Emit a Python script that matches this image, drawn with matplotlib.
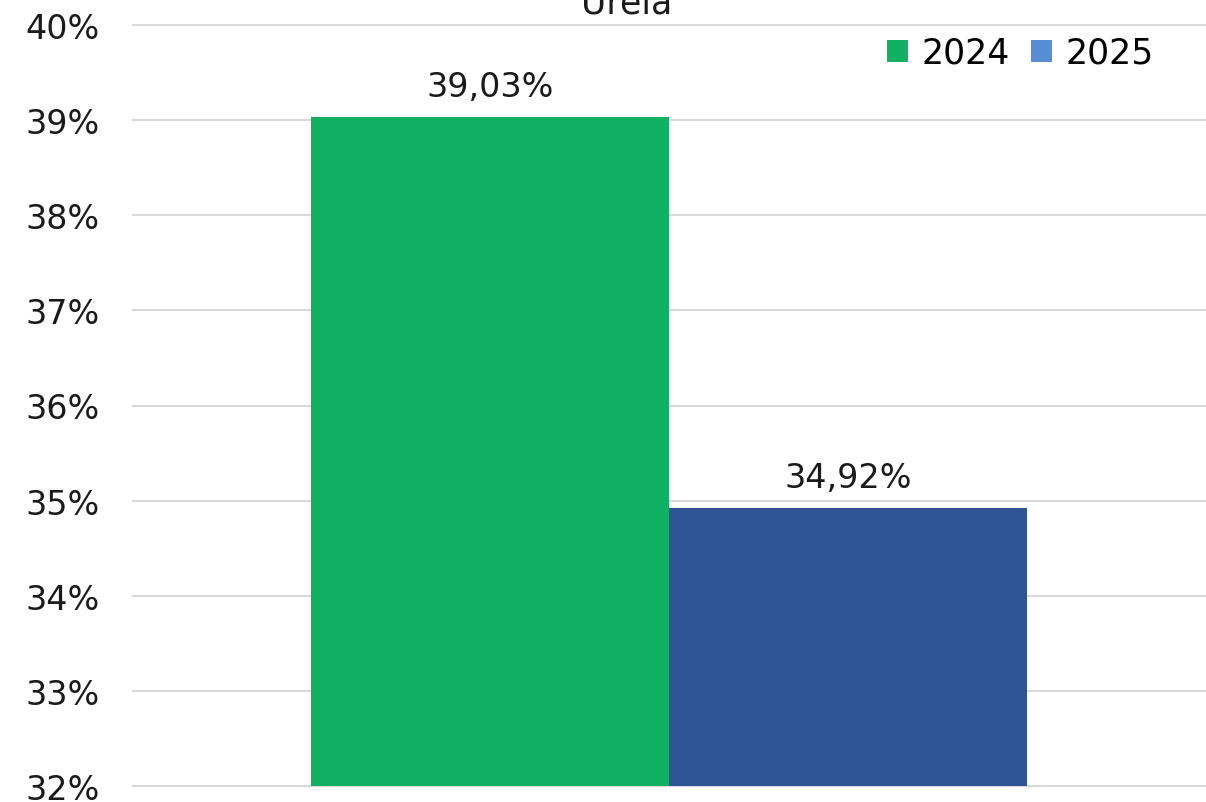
import matplotlib
matplotlib.use("Agg")
import matplotlib.pyplot as plt
from matplotlib.patches import Patch
from matplotlib.ticker import FuncFormatter

plt.rcParams['font.family'] = ['DejaVu Sans']

title = "Ureia"
categories = ["Ureia"]
series_names = ["2024", "2025"]
values_2024 = [39.03]
values_2025 = [34.92]
ylim = (32, 40)

bar_colors = ["#11b163", "#2f5597"]
legend_colors = ["#11b163", "#568fd4"]

fig = plt.figure(figsize=(12.06, 8.03), dpi=100)
ax = fig.add_axes([133/1206, 1 - 787/803, (1205-133)/1206, (787-26)/803])

w = 0.334
x = [0]
b1 = ax.bar([i - w/2 for i in x], values_2024, width=w, color=bar_colors[0], zorder=3)
b2 = ax.bar([i + w/2 for i in x], values_2025, width=w, color=bar_colors[1], zorder=3)

ax.set_xlim(-0.5, 0.5)
ax.set_ylim(*ylim)
ax.set_yticks(range(32, 41))
ax.yaxis.set_major_formatter(FuncFormatter(lambda v, p: f"{int(v)}%"))
ax.tick_params(axis='y', length=0, pad=24, labelsize=24, labelcolor="#1a1a1a")
ax.set_xticks([])
ax.grid(axis='y', color="#d9d9d9", linewidth=1.5, zorder=0)
for l in ax.get_ygridlines():
    l.set_clip_on(False)
for s in ax.spines.values():
    s.set_visible(False)

def fmt(v):
    return f"{v:.2f}".replace(".", ",") + "%"

for bars, vals in ((b1, values_2024), (b2, values_2025)):
    for r, v in zip(bars, vals):
        ax.annotate(fmt(v), (r.get_x() + r.get_width()/2, v), xytext=(0, 15),
                    textcoords="offset points", ha='center', va='baseline',
                    fontsize=24, color="#1a1a1a")

handles = [Patch(facecolor=c, edgecolor='none') for c in legend_colors]
ax.legend(handles, series_names, loc='upper right', bbox_to_anchor=(1154/1206, 1 - 37/803),
          bbox_transform=fig.transFigure, ncol=2, frameon=False, fontsize=25,
          handlelength=0.6, handleheight=0.6, handletextpad=0.4, columnspacing=0.6,
          borderaxespad=0, borderpad=0)

fig.text(627/1206, 1 - 13/803, title, ha='center', va='baseline', fontsize=25, color="#1a1a1a")

fig.savefig("out.png", dpi=100)
